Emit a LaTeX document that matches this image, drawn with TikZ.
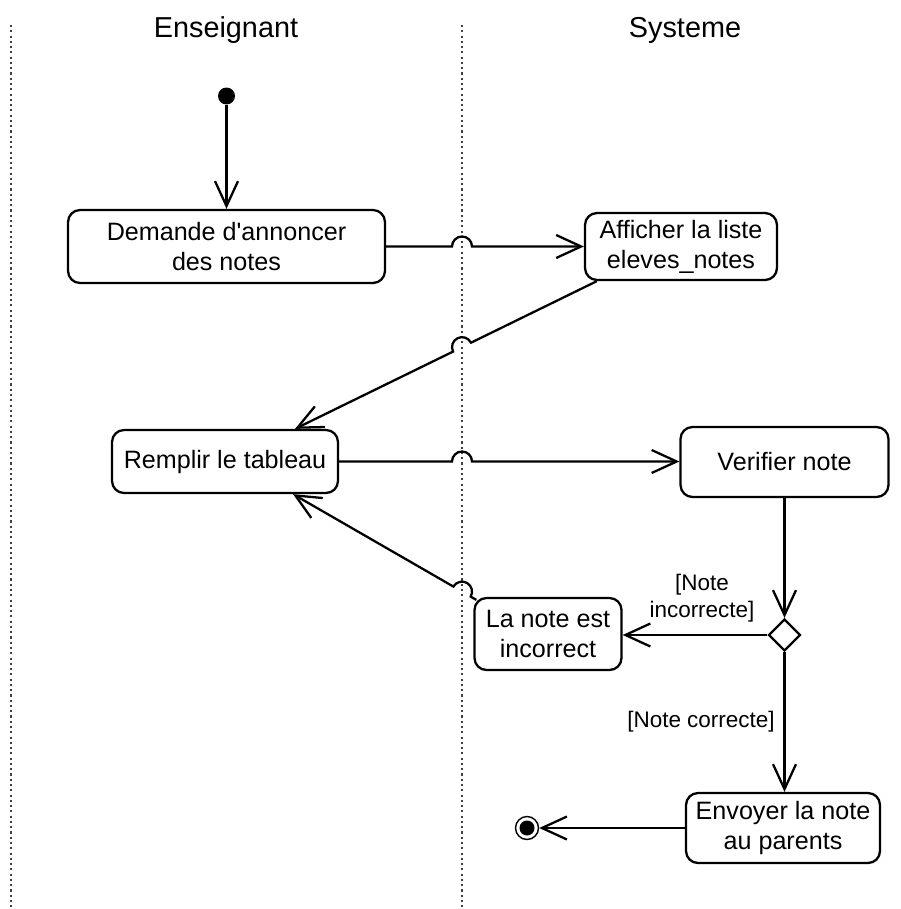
\documentclass[tikz,border=0pt]{standalone}
\usepackage{fontspec}
\setmainfont{Liberation Sans}[Ligatures=TeXOff]
\usetikzlibrary{arrows.meta,shapes.geometric,calc}

\begin{document}
\begin{tikzpicture}[x=0.02cm,y=-0.02cm,
    >={Straight Barb[length=0.5cm,width=0.46cm]},
    act/.style={draw,rounded corners=0.24cm,line width=1.3pt,align=center,inner sep=0pt,
      font=\fontsize{14.3}{17}\selectfont},
    flow/.style={->,line width=1.3pt},
    lane/.style={line width=1.1pt,gray!50!black,dash pattern=on 1.2pt off 1.8pt},
    head/.style={font=\fontsize{16.4}{19}\selectfont},
    guard/.style={align=center,font=\fontsize{12.8}{15.3}\selectfont}]
      \useasboundingbox (0,0) rectangle (901,909);

      \draw[lane] (11,25) -- (11,909);
      \draw[lane] (462,25) -- (462,909);
      \coordinate (mid) at (462,0);

      \node[head] (ens) at (226,30) {Enseignant};
      \node[head] (sys) at (685,30) {Systeme};

      \node[circle,fill,inner sep=0pt,minimum size=0.34cm] (init) at (226.5,96) {};
      \node[act,minimum width=6.34cm,minimum height=1.46cm] (dem) at (226.5,246.5) {Demande d'annoncer\\des notes};
      \node[act,minimum width=3.84cm,minimum height=1.34cm] (aff) at (681,246.5) {Afficher la liste\\eleves\_notes};
      \node[act,minimum width=4.52cm,minimum height=1.26cm] (rem) at (225,461.5) {Remplir le tableau};
      \node[act,minimum width=4.16cm,minimum height=1.4cm] (ver) at (784.5,462) {Verifier note};
      \node[diamond,draw,line width=1.3pt,inner sep=0pt,minimum width=0.64cm,minimum height=0.64cm] (dia) at (784.5,635) {};
      \node[act,minimum width=2.94cm,minimum height=1.44cm] (inc) at (548,634) {La note est\\incorrect};
      \node[act,minimum width=3.88cm,minimum height=1.4cm] (env) at (783,828) {Envoyer la note\\au parents};
      \node[circle,draw,line width=0.8pt,inner sep=0pt,minimum size=0.46cm] (fin) at (527,828) {};
      \node[circle,fill,inner sep=0pt,minimum size=0.3cm] (fincore) at (fin) {};

      \node[guard] (gno) at (702,598) {[Note\\incorrecte]};
      \node[guard] (gok) at (701,722) {[Note correcte]};

      \draw[flow] (init) -- (dem.north);

      \coordinate (h1) at (dem.east -| mid);
      \draw[flow] (dem.east) -- ($(h1)+(-10,0)$) arc[start angle=180,end angle=360,radius=10] -- (aff.west |- h1);

      \coordinate (a2) at ($(aff.south west)+(13,0)$);
      \coordinate (b2) at ($(rem.north)+(70,0)$);
      \coordinate (h2) at (intersection of a2--b2 and 462,0--462,909);
      \draw[flow] (a2) -- ($(h2)+(-26.34:10)$) arc[start angle=-26.34,end angle=-206.34,radius=10] -- (b2);

      \coordinate (h3) at (rem.east -| mid);
      \draw[flow] (rem.east) -- ($(h3)+(-10,0)$) arc[start angle=180,end angle=360,radius=10] -- (ver.west |- h3);

      \draw[flow] (ver.south -| dia.north) -- (dia.north);
      \draw[flow] (dia.west) -- (inc.east |- dia.west);

      \coordinate (a4) at ($(inc.north west)+(3,3)$);
      \coordinate (b4) at ($(rem.south)+(68,0)$);
      \coordinate (h4) at (intersection of a4--b4 and 462,0--462,909);
      \draw[flow] (a4) -- ($(h4)+(30.34:10)$) arc[start angle=30.34,end angle=-149.66,radius=10] -- (b4);

      \draw[flow] (dia.south) -- (env.north -| dia.south);
      \draw[flow] (env.west) -- (fin);
\end{tikzpicture}
\end{document}
